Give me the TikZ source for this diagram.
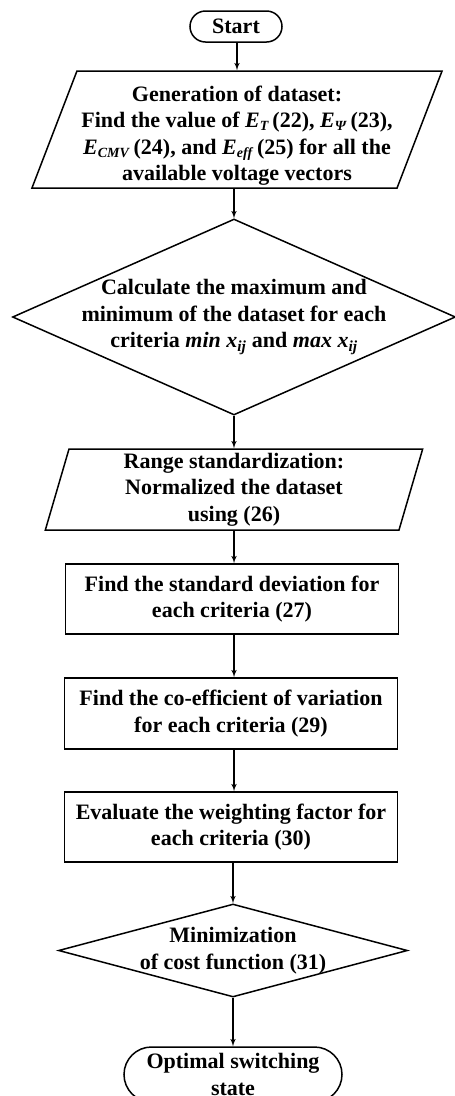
\documentclass[tikz,border=0pt]{standalone}
\usepackage{fontspec}
\setmainfont{Liberation Serif}
\usepackage{tikz}
\usetikzlibrary{arrows}
\usetikzlibrary{shapes.geometric}
\tikzset{>=latex'}
\newcommand{\subtx}[1]{\raisebox{-0.3ex}{\fontsize{14}{14}\selectfont\textit{#1}}}

\begin{document}
\begin{tikzpicture}[x=1pt,y=-1pt,line width=1.5pt,
	font=\fontsize{22}{26.5}\selectfont\bfseries,
	term/.style={draw,align=center,inner sep=0pt},
	io/.style={draw,trapezium,trapezium stretches=true,align=center,inner sep=1pt},
	proc/.style={draw,minimum width=333pt,minimum height=70pt,align=center,inner sep=1pt},
	decide/.style={draw,diamond,inner sep=0pt}]
	\useasboundingbox (0,0) rectangle (455,1096);
	\node[term,rounded corners=15.5pt,minimum width=92pt,minimum height=31pt] (start) at (236,26.5) {Start};
	\node[io,trapezium left angle=82,trapezium right angle=98,minimum width=410pt,minimum height=117pt,label={[align=center,yshift=-6pt]center:Generation of dataset:\\ Find the value of \textit{E}\subtx{T}\,(22), \textit{E}\subtx{Ψ}\,(23),\\ \textit{E}\subtx{CMV}\,(24), and \textit{E}\subtx{eff}\,(25) for all the\\ available voltage vectors}] (gen) at (237,129.5) {};
	\node[decide,minimum width=443pt,minimum height=196pt,label={[align=center]center:Calculate the maximum and\\ minimum of the dataset for each\\ criteria \textit{min x}\textsubscript{\textit{ij}} and \textit{max x}\textsubscript{\textit{ij}}}] (calc) at (234,317) {};
	\node[io,trapezium left angle=78,trapezium right angle=102,minimum width=378pt,minimum height=81pt] (range) at (234,489.5) {Range standardization:\\ Normalized the dataset\\ using (26)};
	\node[proc] (std) at (232,599) {Find the standard deviation for\\ each criteria (27)};
	\node[proc,minimum height=71pt] (cov) at (231,713.5) {Find the co-efficient of variation\\ for each criteria (29)};
	\node[proc] (weight) at (231,827) {Evaluate the weighting factor for\\ each criteria (30)};
	\node[decide,minimum width=349pt,minimum height=93pt,label={[align=center]center:Minimization\\ of cost function (31)}] (minim) at (233,950.5) {};
	\node[term,rounded corners=27.5pt,minimum width=218pt,minimum height=55pt] (optimal) at (233,1074.5) {Optimal switching\\ state};
	\draw[->] (start.south -| gen.north) -- (gen.north);
	\draw[->] (gen.south -| calc.north) -- (calc.north);
	\draw[->] (calc.south) -- (calc.south |- range.north);
	\draw[->] (range.south) -- (range.south |- std.north);
	\draw[->] (std.south -| range.south) -- (range.south |- cov.north);
	\draw[->] (cov.south -| range.south) -- (range.south |- weight.north);
	\draw[->] (weight.south -| minim.north) -- (minim.north);
	\draw[->] (minim.south) -- (optimal.north);
\end{tikzpicture}
\end{document}
